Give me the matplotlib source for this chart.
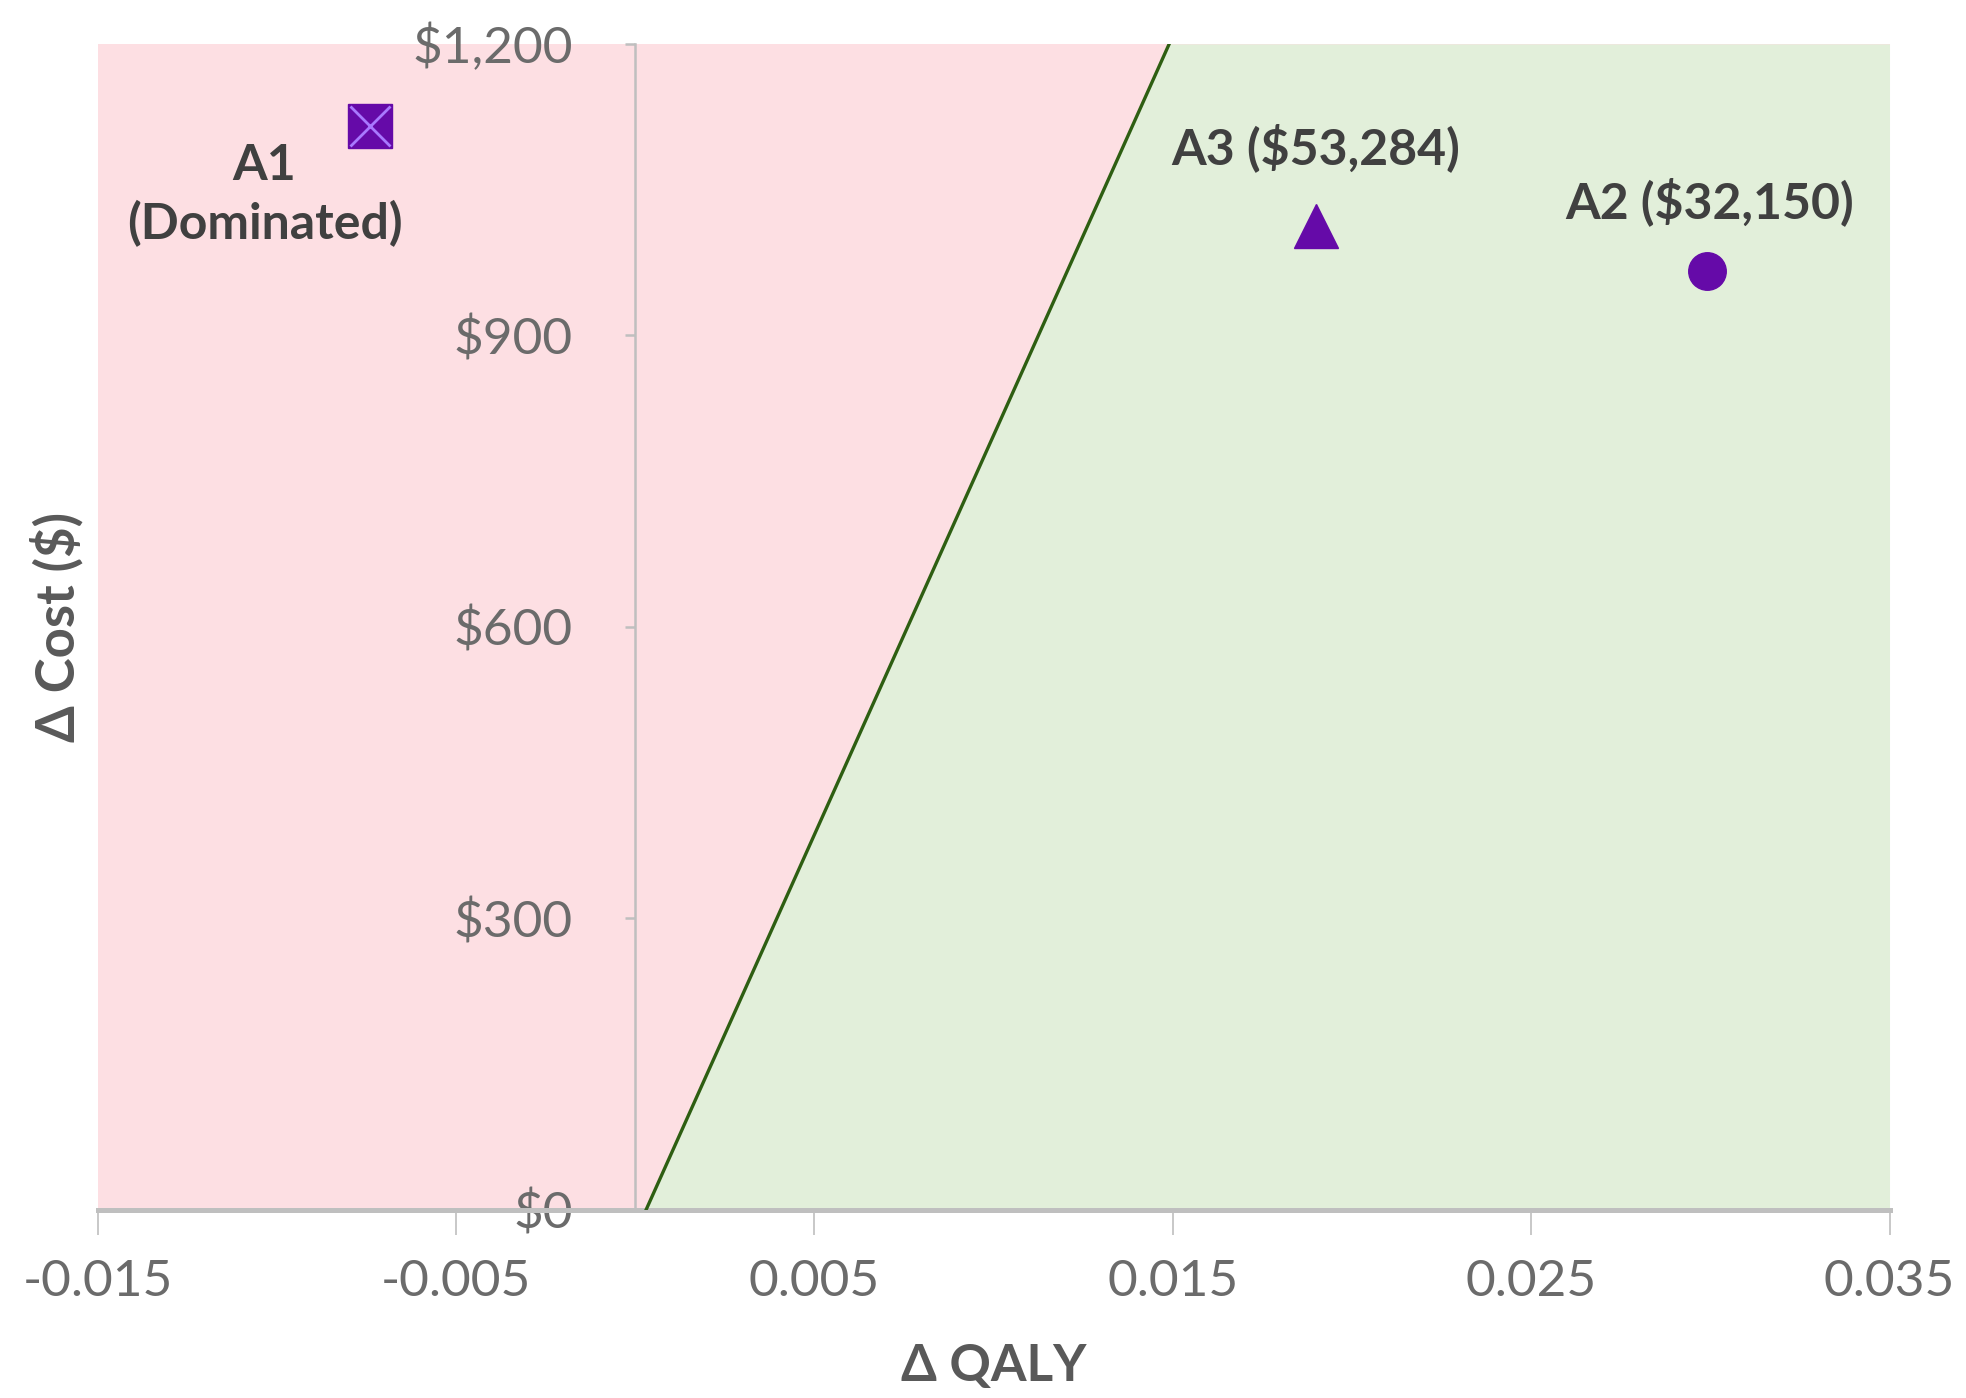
import matplotlib.pyplot as plt
import numpy as np

plt.rcParams['font.family'] = ['Lato', 'DejaVu Sans']

# threshold line (willingness-to-pay boundary)
wtp_x = [0.0003, 0.0149]
wtp_y = [0, 1200]

# strategies
names = ["A1\n(Dominated)", "A2 ($32,150)", "A3 ($53,284)"]
d_qaly = [-0.0074, 0.0299, 0.0190]
d_cost = [1116, 966, 1013]

xticks = [-0.015, -0.005, 0.005, 0.015, 0.025, 0.035]
yticks = [0, 300, 600, 900, 1200]
ytick_labels = ["$0", "$300", "$600", "$900", "$1,200"]

pink = '#FDDFE3'
green = '#E2EFDA'
purple = '#650AA8'
gray = '#BFBFBF'
txt = '#404040'

fig = plt.figure(figsize=(19.66, 13.98), dpi=100)
ax = fig.add_axes([0.0497, 0.1345, 0.9114, 0.8341])
ax.set_xlim(-0.015, 0.035)
ax.set_ylim(0, 1200)
ax.set_facecolor(pink)

# green region right of the line
yy = np.array(wtp_y, dtype=float)
ax.fill_betweenx(yy, wtp_x, [0.035, 0.035], color=green, lw=0, zorder=1)
ax.plot(wtp_x, wtp_y, color='#2E5E12', lw=2.4, zorder=3)

# markers
ax.plot(d_qaly[0], d_cost[0], marker='s', ms=31, color=purple, ls='none', zorder=5)
ax.plot(d_qaly[0], d_cost[0], marker='x', ms=29, mew=2, color='#A878FF', ls='none', zorder=6)
ax.plot(d_qaly[1], d_cost[1], marker='o', ms=27, color=purple, ls='none', zorder=5)
ax.plot(d_qaly[2], d_cost[2], marker='^', ms=31, color=purple, ls='none', zorder=5)

offsets = [(-76, -50), (2, 50), (0, 56)]
for name, x, y, off in zip(names, d_qaly, d_cost, offsets):
    ax.annotate(name, (x, y), xytext=off, textcoords='offset points',
                ha='center', va='center', fontsize=36, fontweight='bold',
                color=txt, linespacing=1.3, zorder=7)

# axes styling
for s in ['top', 'right']:
    ax.spines[s].set_visible(False)
ax.spines['left'].set_position(('data', 0))
ax.spines['left'].set_color(gray)
ax.spines['left'].set_linewidth(1.8)
ax.spines['bottom'].set_color(gray)
ax.spines['bottom'].set_linewidth(3.6)
ax.spines['left'].set_zorder(2)

ax.set_xticks(xticks)
ax.set_xticklabels([f"{v:.3f}" for v in xticks])
ax.set_yticks(yticks)
ax.set_yticklabels(ytick_labels)
ax.tick_params(axis='x', length=18, width=1.2, color=gray, pad=17,
               labelsize=37, labelcolor='#6B6B6B')
ax.tick_params(axis='y', length=7, width=1.8, color=gray, pad=38,
               labelsize=37, labelcolor='#6B6B6B')

fig.text(0.5057, 0.0224, "Δ QALY", ha='center', va='center',
         fontsize=37, fontweight='bold', color='#595959')
fig.text(0.0287, 0.5516, "Δ Cost ($)", ha='center', va='center', rotation=90,
         fontsize=38, fontweight='bold', color='#595959')

fig.savefig('out.png', dpi=100)
